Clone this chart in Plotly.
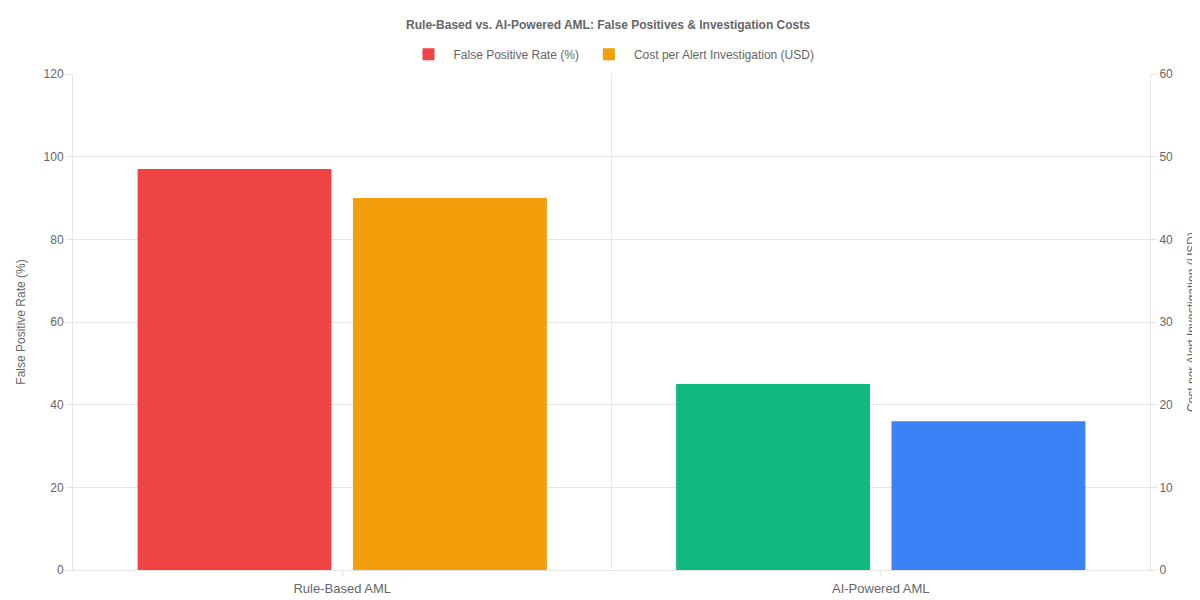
import plotly.graph_objects as go

categories = ["Rule-Based AML", "AI-Powered AML"]
false_positive_rate = [97, 45]
cost_per_alert = [45, 18]
fp_colors = ["#ef4444", "#10b981"]
cost_colors = ["#f59e0b", "#3b82f6"]

FONT = "Liberation Sans, Arial, sans-serif"
GRID = "#e5e5e5"

fig = go.Figure()
fig.add_trace(go.Bar(
    x=categories, y=false_positive_rate, name="False Positive Rate (%)",
    marker=dict(color=fp_colors, line=dict(width=0)),
    width=0.36, offset=-0.38, yaxis="y",
))
fig.add_trace(go.Bar(
    x=categories, y=cost_per_alert, name="Cost per Alert Investigation (USD)",
    marker=dict(color=cost_colors, line=dict(width=0)),
    width=0.36, offset=0.02, yaxis="y2",
))

# legend swatches use the first bar colour of each series
fig.data[0].update(legendgroup="fp")
fig.data[1].update(legendgroup="cost")

fig.update_layout(
    width=1200, height=600,
    paper_bgcolor="white", plot_bgcolor="white",
    margin=dict(l=57, r=50, t=66, b=30),
    font=dict(family=FONT, size=12, color="#666"),
    title=dict(text="<b>Rule-Based vs. AI-Powered AML: False Positives & Investigation Costs</b>",
               x=0.5, xanchor="center", y=0.972, yanchor="middle",
               font=dict(size=12, color="#666")),
    legend=dict(orientation="h", x=0.5, xanchor="center", y=1.04, yanchor="middle",
                font=dict(size=12, color="#666"), itemwidth=40),
    showlegend=True,
    xaxis=dict(showgrid=False, showline=True, linecolor=GRID, ticks="outside",
               ticklen=6, tickcolor=GRID, tickfont=dict(size=13, color="#666")),
    yaxis=dict(range=[0, 120], dtick=20, gridcolor=GRID, zeroline=True, zerolinecolor=GRID,
               showline=True, linecolor=GRID, ticks="outside", ticklen=6, tickcolor=GRID,
               title=dict(text="False Positive Rate (%)", font=dict(size=12, color="#666"))),
    yaxis2=dict(range=[0, 60], dtick=10, overlaying="y", side="right", showgrid=False,
                showline=True, linecolor=GRID, ticks="outside", ticklen=6, tickcolor=GRID,
                title=dict(text="Cost per Alert Investigation (USD)", font=dict(size=12, color="#666"))),
)
fig.add_shape(type="line", xref="x", yref="paper", x0=0.5, x1=0.5, y0=0, y1=1,
              line=dict(color=GRID, width=1), layer="below")

fig.write_html("out.html")
